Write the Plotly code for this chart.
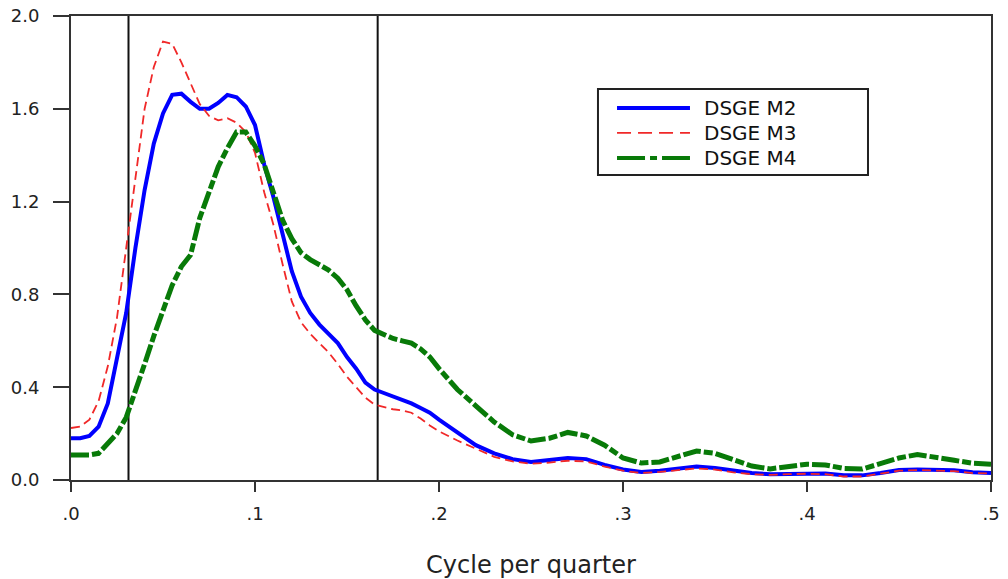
import plotly.graph_objects as go

# Frequency grid (cycles per quarter)
freq = [0.000, 0.005, 0.010, 0.015, 0.020, 0.025, 0.030, 0.035, 0.040, 0.045,
        0.050, 0.055, 0.060, 0.065, 0.070, 0.075, 0.080, 0.085, 0.090, 0.095,
        0.100, 0.105, 0.110, 0.115, 0.120, 0.125, 0.130, 0.135, 0.140, 0.145,
        0.150, 0.155, 0.160, 0.165, 0.170, 0.175, 0.180, 0.185, 0.190, 0.195,
        0.200, 0.21, 0.22, 0.23, 0.24, 0.25, 0.26, 0.27, 0.28, 0.29,
        0.30, 0.31, 0.32, 0.33, 0.34, 0.35, 0.36, 0.37, 0.38, 0.39,
        0.40, 0.41, 0.42, 0.43, 0.44, 0.45, 0.46, 0.47, 0.48, 0.49, 0.50]

dsge_m2 = [0.18, 0.18, 0.19, 0.23, 0.33, 0.52, 0.72, 1.00, 1.25, 1.45,
           1.58, 1.66, 1.665, 1.63, 1.60, 1.60, 1.625, 1.66, 1.65, 1.61,
           1.53, 1.36, 1.22, 1.06, 0.90, 0.79, 0.72, 0.67, 0.63, 0.59,
           0.53, 0.48, 0.42, 0.39, 0.375, 0.36, 0.345, 0.33, 0.31, 0.29,
           0.26, 0.205, 0.15, 0.115, 0.09, 0.078, 0.085, 0.095, 0.09, 0.065,
           0.045, 0.035, 0.04, 0.048, 0.058, 0.052, 0.04, 0.03, 0.025, 0.027,
           0.03, 0.028, 0.02, 0.02, 0.03, 0.043, 0.045, 0.043, 0.042, 0.033, 0.03]

dsge_m3 = [0.224, 0.23, 0.26, 0.34, 0.49, 0.70, 1.00, 1.30, 1.60, 1.78,
           1.89, 1.88, 1.80, 1.71, 1.62, 1.57, 1.55, 1.56, 1.54, 1.50,
           1.41, 1.24, 1.10, 0.93, 0.77, 0.68, 0.63, 0.59, 0.55, 0.50,
           0.445, 0.40, 0.355, 0.325, 0.315, 0.305, 0.30, 0.29, 0.265, 0.235,
           0.21, 0.17, 0.135, 0.10, 0.08, 0.07, 0.075, 0.083, 0.08, 0.058,
           0.04, 0.03, 0.035, 0.042, 0.05, 0.045, 0.033, 0.025, 0.022, 0.025,
           0.027, 0.025, 0.015, 0.015, 0.028, 0.04, 0.043, 0.04, 0.038, 0.03, 0.028]

dsge_m4 = [0.108, 0.108, 0.108, 0.115, 0.155, 0.20, 0.27, 0.38, 0.50, 0.62,
           0.73, 0.84, 0.92, 0.97, 1.13, 1.24, 1.35, 1.43, 1.50, 1.50,
           1.44, 1.36, 1.24, 1.12, 1.04, 0.98, 0.95, 0.925, 0.905, 0.87,
           0.82, 0.75, 0.69, 0.645, 0.625, 0.61, 0.60, 0.59, 0.565, 0.53,
           0.48, 0.39, 0.32, 0.25, 0.195, 0.168, 0.18, 0.205, 0.19, 0.15,
           0.095, 0.073, 0.078, 0.10, 0.125, 0.115, 0.09, 0.06, 0.048, 0.058,
           0.068, 0.065, 0.05, 0.047, 0.07, 0.095, 0.11, 0.10, 0.085, 0.072, 0.068]

series_names = ["DSGE M2", "DSGE M3", "DSGE M4"]
band_edges = [1 / 32, 1 / 6]  # business-cycle band: 32 to 6 quarters

x_tickvals = [0.0, 0.1, 0.2, 0.3, 0.4, 0.5]
x_ticktext = [".0", ".1", ".2", ".3", ".4", ".5"]
y_tickvals = [0.0, 0.4, 0.8, 1.2, 1.6, 2.0]
y_ticktext = ["0.0", "0.4", "0.8", "1.2", "1.6", "2.0"]

styles = [
    dict(color="#0000FF", width=4, dash="solid"),
    dict(color="#F02828", width=1.8, dash="9px,5px"),
    dict(color="#087A08", width=5, dash="18px,3px,9px,3px"),
]
legend_dash = ["solid", "14px,7px", "28px,5px,7px,5px"]

fig = go.Figure()
for name, ys, st in zip(series_names, [dsge_m2, dsge_m3, dsge_m4], styles):
    fig.add_trace(go.Scatter(x=freq, y=ys, mode="lines", name=name,
                             line=st, showlegend=False))

# Band edges as vertical rules
for xb in band_edges:
    fig.add_shape(type="line", xref="x", yref="paper", x0=xb, x1=xb, y0=0, y1=1,
                  line=dict(color="#111111", width=2), layer="below")

# Legend box drawn in paper coordinates
fig.add_shape(type="rect", xref="paper", yref="paper",
              x0=0.5728, x1=0.8663, y0=0.6573, y1=0.8427,
              line=dict(color="#222222", width=2), fillcolor="white")
row_y = [0.8017, 0.7480, 0.6940]
for name, st, dsh, ry in zip(series_names, styles, legend_dash, row_y):
    fig.add_shape(type="line", xref="paper", yref="paper",
                  x0=0.5935, x1=0.6728, y0=ry, y1=ry,
                  line=dict(color=st["color"], width=min(st["width"], 4), dash=dsh))
    fig.add_annotation(xref="paper", yref="paper", x=0.6859, y=ry,
                       xanchor="left", yanchor="middle", showarrow=False,
                       text=name, font=dict(family="DejaVu Sans", size=20, color="#111111"))

axis_common = dict(showline=True, linecolor="#333333", linewidth=2, mirror=True,
                   showgrid=False, zeroline=False, ticks="outside",
                   tickcolor="#333333", tickwidth=2, automargin=False,
                   tickfont=dict(family="DejaVu Sans", size=18, color="#222222"))

fig.update_xaxes(range=[0, 0.5], tickvals=x_tickvals, ticktext=x_ticktext,
                 ticklen=10, ticklabelstandoff=6,
                 title=dict(text="Cycle per quarter", standoff=34,
                            font=dict(family="DejaVu Sans", size=24, color="#222222")),
                 **axis_common)
fig.update_yaxes(range=[0, 2.0], tickvals=y_tickvals, ticktext=y_ticktext,
                 ticklen=16, ticklabelstandoff=10, **axis_common)

fig.update_layout(width=1008, height=579,
                  margin=dict(l=71, r=17, t=16, b=99),
                  paper_bgcolor="white", plot_bgcolor="white")

fig.write_html("out.html")
